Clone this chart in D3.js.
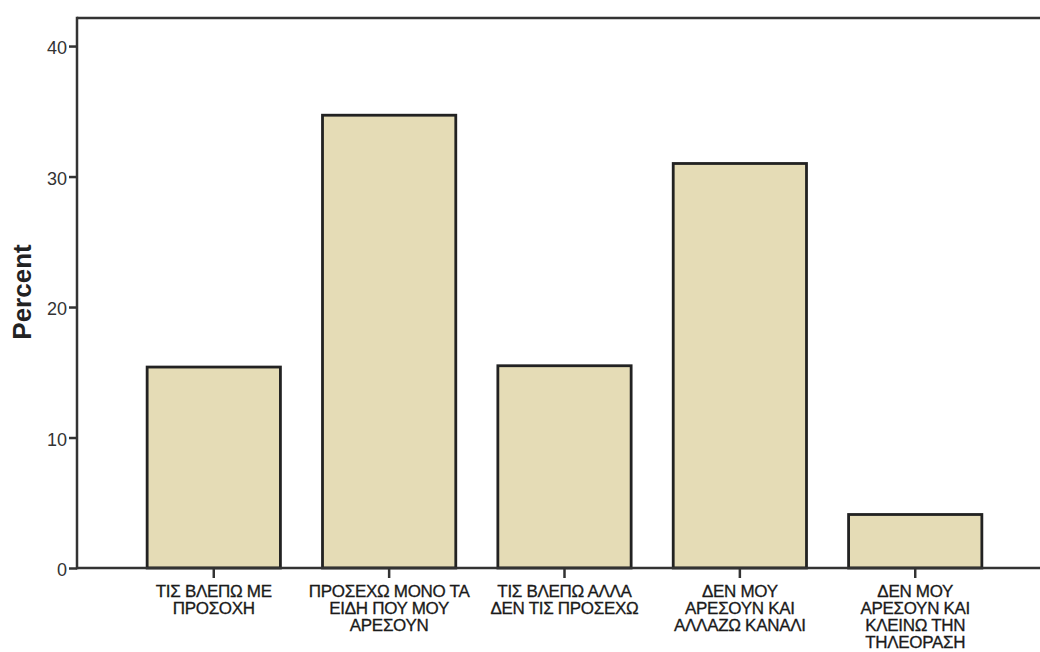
<!DOCTYPE html>
<html><head><meta charset="utf-8">
<script src="https://cdn.jsdelivr.net/npm/d3@7"></script>
<style>
html,body{margin:0;padding:0;background:#fff;}
svg{display:block;}
text{font-family:"Liberation Sans",Arial,sans-serif;}
</style></head>
<body>
<svg id="chart" width="1040" height="652"></svg>
<script>
const categories = [
  ["ΤΙΣ ΒΛΕΠΩ ΜΕ", "ΠΡΟΣΟΧΗ"],
  ["ΠΡΟΣΕΧΩ ΜΟΝΟ ΤΑ", "ΕΙΔΗ ΠΟΥ ΜΟΥ", "ΑΡΕΣΟΥΝ"],
  ["ΤΙΣ ΒΛΕΠΩ ΑΛΛΑ", "ΔΕΝ ΤΙΣ ΠΡΟΣΕΧΩ"],
  ["ΔΕΝ ΜΟΥ", "ΑΡΕΣΟΥΝ ΚΑΙ", "ΑΛΛΑΖΩ ΚΑΝΑΛΙ"],
  ["ΔΕΝ ΜΟΥ", "ΑΡΕΣΟΥΝ ΚΑΙ", "ΚΛΕΙΝΩ ΤΗΝ", "ΤΗΛΕΟΡΑΣΗ"]
];
const percentValues = [15.4, 34.7, 15.5, 31.0, 4.1];
const yTicks = [0, 10, 20, 30, 40];
const yLabel = "Percent";

const svg = d3.select("#chart");
const mLeft = 77, mRight = 1052, mTop = 18, mBottom = 568;

const ids = categories.map((c, i) => i);
const x = d3.scaleBand().domain(ids).range([mLeft, mRight]).paddingInner(0.24).paddingOuter(0.4);
const y = d3.scaleLinear().domain([0, 42.15]).range([mBottom, mTop]);

svg.append("line").attr("x1", mLeft).attr("x2", 1040).attr("y1", mTop).attr("y2", mTop)
  .attr("stroke", "#333").attr("stroke-width", 2.5);

svg.selectAll("rect.bar").data(percentValues).enter().append("rect")
  .attr("class", "bar")
  .attr("x", (d, i) => x(i))
  .attr("width", x.bandwidth())
  .attr("y", d => y(d))
  .attr("height", d => y(0) - y(d))
  .attr("fill", "#e5dcb6")
  .attr("stroke", "#222")
  .attr("stroke-width", 2.8);

const yAxis = d3.axisLeft(y).tickValues(yTicks).tickSize(8).tickPadding(2).tickFormat(d3.format("d"));
const gy = svg.append("g").attr("transform", `translate(${mLeft},0)`).call(yAxis);
gy.select(".domain").remove();
gy.selectAll(".tick line").attr("stroke", "#333").attr("stroke-width", 2.5);
gy.selectAll(".tick text").attr("fill", "#333").attr("dy", "0.42em").style("font-size", "18px")
  .style("font-family", '"Liberation Sans",Arial,sans-serif');
svg.append("line").attr("x1", mLeft).attr("x2", mLeft).attr("y1", mTop - 1.2).attr("y2", mBottom + 1.2)
  .attr("stroke", "#333").attr("stroke-width", 2.5);

const xAxis = d3.axisBottom(x).tickSize(10).tickFormat("");
const gx = svg.append("g").attr("transform", `translate(0,${mBottom})`).call(xAxis);
gx.select(".domain").remove();
gx.selectAll(".tick line").attr("stroke", "#333").attr("stroke-width", 2.5);
svg.append("line").attr("x1", mLeft).attr("x2", 1040).attr("y1", mBottom).attr("y2", mBottom)
  .attr("stroke", "#333").attr("stroke-width", 2.5);

const lab = svg.selectAll("text.cat").data(categories).enter().append("text")
  .attr("class", "cat")
  .attr("x", (d, i) => x(i) + x.bandwidth() / 2)
  .attr("y", 597)
  .attr("text-anchor", "middle")
  .attr("fill", "#1a1a1a")
  .attr("stroke", "#1a1a1a")
  .attr("stroke-width", 0.3)
  .style("font-size", "17px")
  .style("letter-spacing", "-0.3px");
lab.selectAll("tspan").data(d => d).enter().append("tspan")
  .attr("x", function () { return d3.select(this.parentNode).attr("x"); })
  .attr("dy", (d, j) => j === 0 ? 0 : 17.1)
  .text(d => d);

svg.append("text")
  .attr("transform", `translate(31,292) rotate(-90)`)
  .attr("text-anchor", "middle")
  .attr("fill", "#222")
  .style("font-size", "26px")
  .style("font-weight", "bold")
  .text(yLabel);
</script>
</body></html>
